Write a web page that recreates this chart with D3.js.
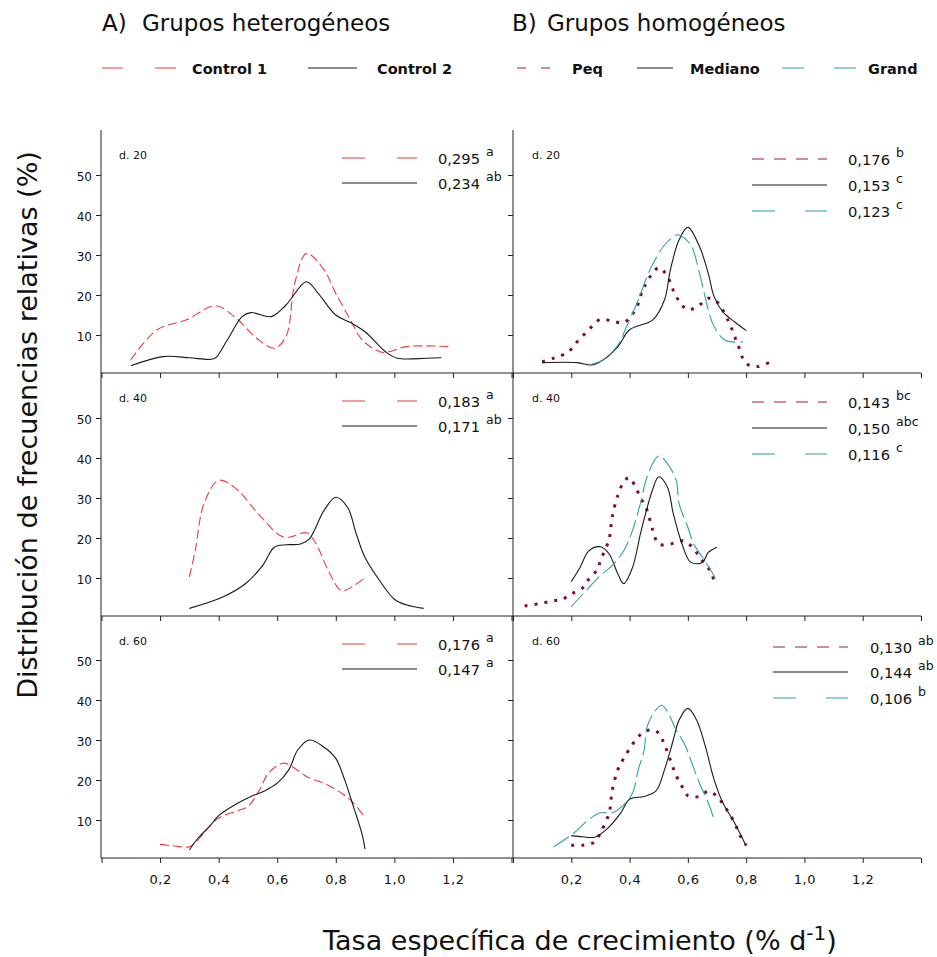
<!DOCTYPE html>
<html><head><meta charset="utf-8">
<script src="https://cdn.jsdelivr.net/npm/d3@7"></script>
<style>
body{margin:0;background:#fff}
svg{display:block}
text{font-family:"DejaVu Sans",Verdana,sans-serif;fill:#111}
</style>
</head><body>
<svg id="chart" width="937" height="957"></svg>
<script>
// ---------------- data ----------------
const xTickValues = [0, 0.2, 0.4, 0.6, 0.8, 1.0, 1.2, 1.4];
const xTickLabels = ["", "0,2", "0,4", "0,6", "0,8", "1,0", "1,2", ""];
const yTickValues = [10, 20, 30, 40, 50];
const yTickLabels = ["10", "20", "30", "40", "50"];
const dayLabels = ["d. 20", "d. 40", "d. 60"];
const panelTitles = ["A)", "B)"];
const panelSubtitles = ["Grupos heterogéneos", "Grupos homogéneos"];
const heteroSeries = ["Control 1", "Control 2"];
const homoSeries = ["Peq", "Mediano", "Grand"];
const heteroRates = [["0,295", "0,234"], ["0,183", "0,171"], ["0,176", "0,147"]];
const heteroLetters = [["a", "ab"], ["a", "ab"], ["a", "a"]];
const homoRates = [["0,176", "0,153", "0,123"], ["0,143", "0,150", "0,116"], ["0,130", "0,144", "0,106"]];
const homoLetters = [["b", "c", "c"], ["bc", "abc", "c"], ["ab", "ab", "b"]];

// day 20 – heterogeneous
const d20Control1 = [[0.10,3.8],[0.19,11.3],[0.29,13.8],[0.39,17.3],[0.46,14.2],[0.53,9.2],[0.59,6.7],[0.63,9.6],[0.66,23.0],[0.70,30.4],[0.76,26.3],[0.80,20.4],[0.85,13.8],[0.89,8.8],[0.95,5.8],[0.98,5.8],[1.04,7.1],[1.19,7.1]];
const d20Control2 = [[0.10,2.3],[0.21,4.6],[0.30,4.3],[0.37,3.9],[0.39,4.3],[0.43,8.8],[0.48,14.6],[0.51,15.6],[0.58,14.6],[0.63,17.5],[0.70,23.3],[0.74,20.4],[0.80,15.0],[0.85,13.1],[0.90,10.8],[0.97,5.8],[1.01,4.2],[1.11,4.2],[1.16,4.3]];
// day 20 – homogeneous
const d20Peq = [[0.10,3.3],[0.14,4.2],[0.19,5.8],[0.22,8.3],[0.26,11.3],[0.30,13.9],[0.34,13.5],[0.38,13.1],[0.42,16.3],[0.45,22.0],[0.50,26.8],[0.53,24.6],[0.56,19.6],[0.60,16.3],[0.64,17.5],[0.67,19.2],[0.70,18.3],[0.74,13.3],[0.77,7.9],[0.80,2.9],[0.84,2.1],[0.88,3.2]];
const d20Mediano = [[0.10,3.1],[0.22,3.1],[0.27,2.5],[0.31,3.8],[0.36,7.1],[0.40,11.3],[0.48,13.8],[0.52,18.8],[0.54,26.3],[0.57,33.8],[0.60,36.9],[0.64,32.1],[0.67,25.4],[0.69,19.6],[0.72,15.8],[0.76,13.3],[0.80,11.1]];
const d20Grand = [[0.26,2.5],[0.31,3.8],[0.36,7.5],[0.39,12.1],[0.43,18.8],[0.47,26.3],[0.52,32.5],[0.56,35.0],[0.57,35.0],[0.61,32.5],[0.64,25.4],[0.67,16.3],[0.69,12.1],[0.73,8.6],[0.79,8.3]];
// day 40 – heterogeneous
const d40Control1 = [[0.30,10.3],[0.32,16.8],[0.35,28.6],[0.40,34.4],[0.46,32.3],[0.53,26.5],[0.61,20.6],[0.64,20.2],[0.70,21.3],[0.73,18.9],[0.78,11.0],[0.82,6.8],[0.86,8.0],[0.90,10.1]];
const d40Control2 = [[0.30,2.4],[0.41,5.1],[0.49,8.5],[0.55,13.1],[0.59,17.7],[0.63,18.3],[0.68,18.5],[0.71,19.8],[0.76,26.9],[0.80,30.2],[0.84,27.7],[0.87,21.0],[0.90,15.1],[0.95,9.3],[1.00,4.7],[1.04,3.3],[1.10,2.4]];
// day 40 – homogeneous
const d40Peq = [[0.04,3.0],[0.09,3.6],[0.14,4.3],[0.17,4.7],[0.20,6.0],[0.24,7.6],[0.26,9.7],[0.29,12.2],[0.30,14.3],[0.33,19.8],[0.34,25.2],[0.36,30.7],[0.38,34.0],[0.40,35.1],[0.42,32.7],[0.44,29.8],[0.46,26.9],[0.48,21.9],[0.50,18.5],[0.54,18.5],[0.58,19.3],[0.61,18.1],[0.65,14.3],[0.68,11.4],[0.69,9.1]];
const d40Mediano = [[0.20,9.1],[0.23,12.6],[0.26,16.8],[0.30,17.8],[0.33,16.0],[0.36,11.0],[0.38,8.6],[0.41,12.6],[0.44,21.9],[0.48,32.3],[0.50,35.3],[0.53,32.7],[0.55,26.1],[0.58,18.5],[0.61,13.9],[0.65,13.9],[0.67,16.4],[0.70,17.7]];
const d40Grand = [[0.20,2.8],[0.24,6.0],[0.30,10.6],[0.34,13.1],[0.38,16.8],[0.41,21.9],[0.44,29.4],[0.46,35.3],[0.50,40.5],[0.53,38.6],[0.56,34.4],[0.57,28.6],[0.60,22.7],[0.62,18.5],[0.65,15.2],[0.68,11.8],[0.70,9.1]];
// day 60 – heterogeneous
const d60Control1 = [[0.20,3.9],[0.25,3.5],[0.30,3.3],[0.33,5.1],[0.37,8.5],[0.40,10.5],[0.46,12.2],[0.50,13.4],[0.54,17.6],[0.57,21.7],[0.62,24.2],[0.65,23.4],[0.70,20.9],[0.77,18.8],[0.82,16.7],[0.86,14.3],[0.90,10.5]];
const d60Control2 = [[0.30,2.5],[0.33,5.5],[0.37,8.5],[0.40,11.1],[0.46,14.0],[0.51,15.9],[0.56,17.4],[0.60,19.2],[0.64,22.6],[0.67,27.5],[0.71,30.0],[0.76,28.2],[0.80,25.4],[0.83,20.1],[0.86,13.4],[0.89,6.4],[0.90,2.7]];
// day 60 – homogeneous
const d60Peq = [[0.20,3.7],[0.24,3.7],[0.28,4.5],[0.30,6.8],[0.33,11.8],[0.34,17.2],[0.36,22.6],[0.38,25.4],[0.42,29.9],[0.45,32.1],[0.48,32.5],[0.50,31.7],[0.52,28.8],[0.54,25.0],[0.56,21.1],[0.58,18.4],[0.60,16.1],[0.64,15.9],[0.67,17.2],[0.70,15.9],[0.73,13.0],[0.76,9.3],[0.78,6.0],[0.80,3.7]];
const d60Mediano = [[0.20,6.1],[0.24,5.8],[0.28,5.7],[0.32,7.6],[0.37,11.8],[0.40,15.2],[0.45,15.9],[0.49,17.2],[0.52,22.6],[0.55,30.0],[0.57,35.0],[0.60,37.9],[0.63,35.0],[0.66,28.4],[0.69,20.1],[0.72,14.3],[0.76,9.3],[0.80,3.5]];
const d60Grand = [[0.14,3.3],[0.21,6.8],[0.26,10.1],[0.30,11.8],[0.34,11.8],[0.38,13.8],[0.41,16.7],[0.43,22.6],[0.45,27.5],[0.46,33.3],[0.49,37.5],[0.51,38.7],[0.53,37.1],[0.56,32.5],[0.59,28.8],[0.61,25.0],[0.64,19.2],[0.67,14.3],[0.69,10.1]];

const heteroData = [[d20Control1, d20Control2], [d40Control1, d40Control2], [d60Control1, d60Control2]];
const homoData = [[d20Peq, d20Mediano, d20Grand], [d40Peq, d40Mediano, d40Grand], [d60Peq, d60Mediano, d60Grand]];

// ---------------- styles ----------------
const styleOf = {
  "Control 1": {stroke: "#f03a3a", width: 1.1, dash: "9,4", legDash: "23,32", topDash: "21,32"},
  "Control 2": {stroke: "#1a1a1a", width: 1.1, dash: null, legDash: null, topDash: null},
  "Peq":       {stroke: "#7c0a3e", width: 3, dash: "3,7", legStroke: "#c4628e", legWidth: 1.3, legDash: "12,10", topDash: "9,15"},
  "Mediano":   {stroke: "#1a1a1a", width: 1.1, dash: null, legDash: null, topDash: null},
  "Grand":     {stroke: "#2ea3a3", width: 1.1, dash: "18,5", legDash: "23,30", topDash: "22,30"}
};

// ---------------- layout ----------------
const svg = d3.select("#chart");
const leftX0 = 101, midX = 513, rightX1 = 921;
const topY = 130;
const zeroY = [375, 618, 860];
const rowBottom = [373, 616, 858];
const pxPerUnit = 4;

const xLeft = d3.scaleLinear().domain([0, 1.4]).range([101.5, 511.5]);
const xRight = d3.scaleLinear().domain([0, 1.4]).range([513, 921]);
const yRow = zeroY.map(z => d3.scaleLinear().domain([0, 61]).range([z, z - 61 * pxPerUnit]));

// frame lines
const g = svg.append("g");
g.append("line").attr("x1", leftX0).attr("x2", leftX0).attr("y1", topY).attr("y2", rowBottom[2]).attr("stroke", "#222");
g.append("line").attr("x1", midX).attr("x2", midX).attr("y1", topY).attr("y2", rowBottom[2]).attr("stroke", "#222");
rowBottom.forEach(b => {
  g.append("line").attr("x1", leftX0).attr("x2", rightX1).attr("y1", b).attr("y2", b).attr("stroke", "#222");
});

// axes
[0, 1, 2].forEach(r => {
  const y = yRow[r];
  [[xLeft, leftX0, true], [xRight, midX, false]].forEach(([xs, ax, labels]) => {
    const ya = d3.axisLeft(y).tickValues(yTickValues).tickSize(5).tickPadding(4)
      .tickFormat((d, i) => labels ? yTickLabels[i] : "");
    const gy = svg.append("g").attr("transform", `translate(${ax},0)`).call(ya);
    gy.select(".domain").remove();
    gy.selectAll(".tick line").attr("stroke", "#222");
    gy.selectAll(".tick text").style("font-family", '"DejaVu Sans",Verdana,sans-serif')
      .style("font-size", "12px").attr("fill", "#333").attr("dy", "0.45em");

    const xa = d3.axisBottom(xs).tickValues(xTickValues).tickSize(5).tickPadding(12)
      .tickFormat((d, i) => r === 2 ? xTickLabels[i] : "");
    const gx = svg.append("g").attr("transform", `translate(0,${rowBottom[r]})`).call(xa);
    gx.select(".domain").remove();
    gx.selectAll(".tick line").attr("stroke", "#222");
    gx.selectAll(".tick text").style("font-family", '"DejaVu Sans",Verdana,sans-serif')
      .style("font-size", "13px").attr("fill", "#333").attr("letter-spacing", "0.5px");
  });
});

// curves
const makeLine = (xs, ys) => d3.line().x(d => xs(d[0])).y(d => ys(d[1])).curve(d3.curveCatmullRom.alpha(0.5));

function drawSeries(data, names, xs, r) {
  names.forEach((n, i) => {
    const s = styleOf[n];
    svg.append("path").datum(data[i])
      .attr("d", makeLine(xs, yRow[r]))
      .attr("fill", "none")
      .attr("stroke", s.stroke)
      .attr("stroke-width", s.width)
      .attr("stroke-dasharray", s.dash)
      .attr("stroke-linejoin", "round");
  });
}

function drawPanelLegend(names, rates, letters, lineX1, lineX2, textX, rowTop, offsets) {
  names.forEach((n, i) => {
    const s = styleOf[n];
    const ly = rowTop + offsets[i];
    svg.append("line").attr("x1", lineX1).attr("x2", lineX2).attr("y1", ly).attr("y2", ly)
      .attr("stroke", s.legStroke || s.stroke).attr("stroke-width", s.legWidth || 1.1)
      .attr("stroke-dasharray", s.legDash);
    const t = svg.append("text").attr("x", textX).attr("y", ly + 6).style("font-size", "14.7px").attr("fill", "#222");
    t.append("tspan").text(rates[i]);
    t.append("tspan").attr("dx", 6).attr("dy", -8).style("font-size", "12.5px").text(letters[i]);
  });
}

const rowTops = [topY, rowBottom[0], rowBottom[1]];
[0, 1, 2].forEach(r => {
  drawSeries(heteroData[r], heteroSeries, xLeft, r);
  drawSeries(homoData[r], homoSeries, xRight, r);
  // day labels
  svg.append("text").attr("x", 119).attr("y", rowTops[r] + 29).style("font-size", "11px").text(dayLabels[r]);
  svg.append("text").attr("x", 532).attr("y", rowTops[r] + 29).style("font-size", "11px").text(dayLabels[r]);
  drawPanelLegend(heteroSeries, heteroRates[r], heteroLetters[r], 342, 417, 438, rowTops[r], [28, 53]);
  if (r < 2) drawPanelLegend(homoSeries, homoRates[r], homoLetters[r], 752, 827, 848, rowTops[r], [29, 55, 81]);
  else drawPanelLegend(homoSeries, homoRates[r], homoLetters[r], 773, 848, 870, rowTops[r], [31, 56, 82]);
});

// titles
svg.append("text").attr("x", 102).attr("y", 31).style("font-size", "23px").text(panelTitles[0]);
svg.append("text").attr("x", 142).attr("y", 31).style("font-size", "23px").text(panelSubtitles[0]);
svg.append("text").attr("x", 512).attr("y", 31).style("font-size", "23px").text(panelTitles[1]);
svg.append("text").attr("x", 547).attr("y", 31).style("font-size", "23px").text(panelSubtitles[1]);

// top legends
const topLegend = [
  {name: "Control 1", x1: 102, x2: 177, tx: 192},
  {name: "Control 2", x1: 308, x2: 357, tx: 377},
  {name: "Peq", x1: 517, x2: 550, tx: 572},
  {name: "Mediano", x1: 637, x2: 673, tx: 690},
  {name: "Grand", x1: 782, x2: 857, tx: 868}
];
topLegend.forEach(l => {
  const s = styleOf[l.name];
  svg.append("line").attr("x1", l.x1).attr("x2", l.x2).attr("y1", 68).attr("y2", 68)
    .attr("stroke", s.legStroke || s.stroke).attr("stroke-width", s.legWidth || 1.1)
    .attr("stroke-dasharray", s.topDash);
  svg.append("text").attr("x", l.tx).attr("y", 74).style("font-size", "14.5px").style("font-weight", "bold").text(l.name);
});

// axis titles
svg.append("text").attr("transform", "translate(37,425) rotate(-90)").attr("text-anchor", "middle")
  .style("font-size", "27px").text("Distribución de frecuencias  relativas (%)");
const xt = svg.append("text").attr("x", 323).attr("y", 950).style("font-size", "27px");
xt.append("tspan").text("Tasa específica de crecimiento (% d");
xt.append("tspan").attr("dy", -10).style("font-size", "20px").text("-1");
xt.append("tspan").attr("dy", 10).text(")");
</script>
</body></html>
